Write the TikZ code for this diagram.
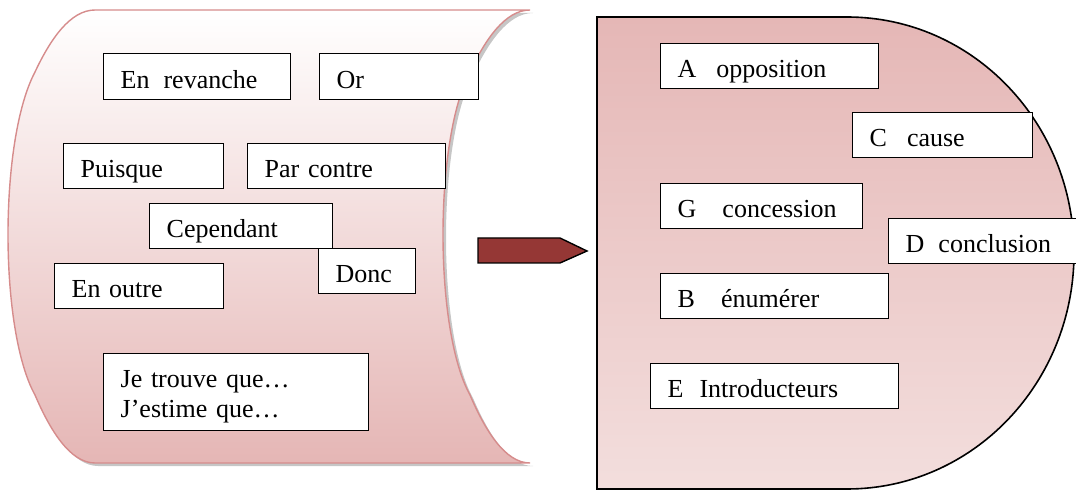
\documentclass[tikz,border=0pt]{standalone}
\usepackage{fontspec}
\setmainfont{Liberation Serif}
\definecolor{lpink}{RGB}{229,182,181}
\definecolor{lline}{RGB}{214,140,140}
\definecolor{rtop}{RGB}{229,183,182}
\definecolor{rbot}{RGB}{243,222,221}
\definecolor{arrowred}{RGB}{149,55,53}
\begin{document}
\begin{tikzpicture}[x=0.5pt,y=-0.5pt,
  wbox/.style={draw=black, line width=0.7pt, fill=white, anchor=north west,
    inner xsep=8.5pt, inner ysep=0pt, align=left,
    font=\fontsize{13}{15}\selectfont, text height=11.5pt, text depth=0pt},
  wboxml/.style={wbox, text height=13pt, text depth=17.8pt}]
\useasboundingbox (0,0) rectangle (1076,491);

% left "stored data" sheet: shadow, then shaded body
\fill[gray!45, shift={(3,3)}]
  (95,10) -- (530,10) .. controls (505,10) and (485,40) .. (470,72)
  .. controls (434,140) and (434,330) .. (470,395)
  .. controls (485,430) and (505,463) .. (530,463) -- (95,463)
  .. controls (70,463) and (50,430) .. (35,395)
  .. controls (-1,330) and (-1,140) .. (35,72)
  .. controls (50,40) and (70,10) .. cycle;
\shadedraw[top color=white, bottom color=lpink, draw=lline, line width=0.7pt]
  (95,10) -- (530,10) .. controls (505,10) and (485,40) .. (470,72)
  .. controls (434,140) and (434,330) .. (470,395)
  .. controls (485,430) and (505,463) .. (530,463) -- (95,463)
  .. controls (70,463) and (50,430) .. (35,395)
  .. controls (-1,330) and (-1,140) .. (35,72)
  .. controls (50,40) and (70,10) .. cycle;

% right "delay" shape
\shadedraw[top color=rtop, bottom color=rbot, draw=black, line width=0.8pt]
  (597,17) -- (847,17) .. controls (973,17) and (1074,123) .. (1074,253)
  .. controls (1074,383) and (973,489) .. (847,489) -- (597,489) -- cycle;

% arrow
\filldraw[fill=arrowred, draw=black, line width=0.7pt]
  (478,238) -- (560,238) -- (587,251) -- (560,263) -- (478,263) -- cycle;

% left boxes
\node[wbox, minimum height=23pt, text width=76.5pt] (er) at (103,53) {En\hspace{7pt}revanche};
\node[wbox, minimum height=23pt, text width=62.5pt] (or) at (319,53) {Or};
\node[wbox, minimum height=22.5pt, text width=63pt] (pu) at (63,143) {Puisque};
\node[wbox, minimum height=22.5pt, text width=82pt] (pc) at (247,143) {Par contre};
\node[wbox, minimum height=22.5pt, text width=74.5pt] (ce) at (149,203) {Cependant};
\node[wbox, minimum height=22.5pt, text width=31.5pt] (do) at (318,248) {Donc};
\node[wbox, minimum height=22.5pt, text width=67.5pt] (eo) at (54,263) {En outre};
\node[wboxml, minimum height=38.5pt, text width=115.5pt] (je) at (103,353) {Je trouve que…\\J’estime que…};

% right boxes
\node[wbox, minimum height=22.5pt, text width=92pt] (A) at (660,43) {A\hspace{10pt}opposition};
\node[wbox, minimum height=22.5pt, text width=73pt] (C) at (852,112) {C\hspace{10pt}cause};
\node[wbox, minimum height=22.5pt, text width=84pt] (G) at (660,183) {G\hspace{13pt}concession};
\node[wbox, minimum height=22.5pt, text width=78pt] (D) at (888,218) {D\hspace{7pt}conclusion};
\node[wbox, minimum height=22.5pt, text width=97pt] (B) at (660,273) {B\hspace{13pt}énumérer};
\node[wbox, minimum height=22.5pt, text width=107pt] (E) at (650,363) {E\hspace{8pt}Introducteurs};
\end{tikzpicture}
\end{document}
